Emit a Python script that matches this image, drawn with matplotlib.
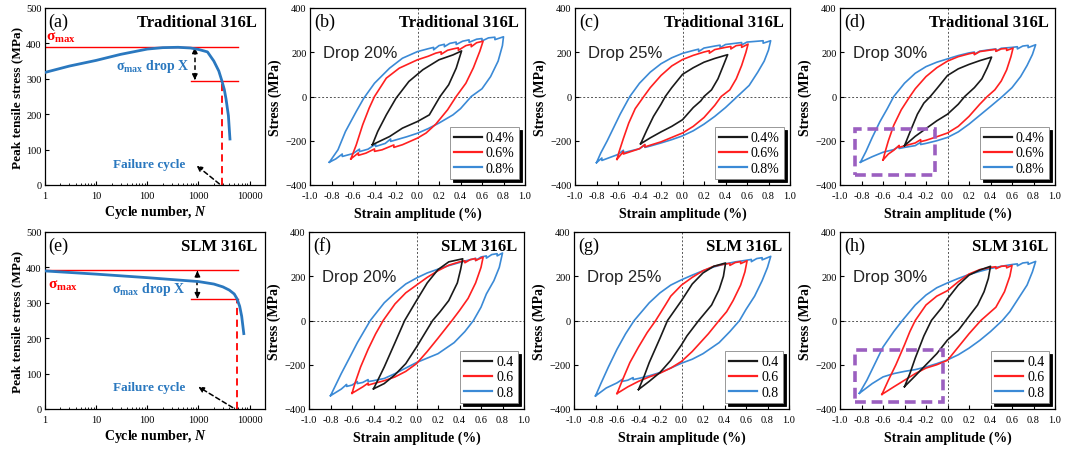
import matplotlib
matplotlib.use("Agg")
import matplotlib.pyplot as plt
from matplotlib.patches import Rectangle
from matplotlib.ticker import LogLocator, NullFormatter, FixedLocator

plt.rcParams['font.family'] = ['Liberation Serif', 'DejaVu Serif']
plt.rcParams['mathtext.fontset'] = 'custom'
plt.rcParams['mathtext.rm'] = 'Liberation Serif'
plt.rcParams['mathtext.it'] = 'Liberation Serif:italic'
plt.rcParams['mathtext.bf'] = 'Liberation Serif:bold'
plt.rcParams['mathtext.bfit'] = 'Liberation Serif:italic:bold'

# ---------------- data: peak tensile stress vs cycle ----------------
trad_N = [1, 3, 10, 30, 100, 200, 400, 700, 1000, 1500, 2000, 2500, 2860, 3200, 3460, 3850, 4130]
trad_peak = [318, 336, 352, 369, 384, 388, 389, 387, 383, 376, 350, 322, 295, 270, 243, 196, 130]
trad_smax = 390
trad_drop = 295
trad_fail_N = 2860

slm_N = [1, 10, 100, 1000, 2000, 3000, 4000, 5000, 5700, 6400, 7000, 7700]
slm_peak = [390, 381, 371, 360, 353, 345, 336, 325, 311, 290, 262, 213]
slm_smax = 392
slm_drop = 310
slm_fail_N = 5700

# ---------------- data: hysteresis loops (strain %, stress MPa) ----------------
# (b) Traditional, drop 20%
b_08_x = [-0.82, -0.74, -0.67, -0.57, -0.5, -0.4, -0.26, -0.14, 0.0, 0.1, 0.15, 0.15, 0.2, 0.25, 0.25, 0.3, 0.36, 0.36, 0.42, 0.48, 0.48, 0.55, 0.6, 0.6, 0.66, 0.72, 0.72, 0.8,
          0.8, 0.79, 0.75, 0.68, 0.6, 0.5, 0.4, 0.33, 0.2, 0.1, 0.0, -0.1, -0.2, -0.25, -0.25, -0.3, -0.39, -0.39, -0.46, -0.54, -0.54, -0.6, -0.7, -0.7, -0.76, -0.82]
b_08_y = [-297, -241, -158, -68, -8, 60, 128, 173, 203, 216, 222, 211, 230, 236, 225, 240, 246, 235, 250, 256, 245, 259, 262, 251, 265, 268, 257, 270,
          270, 230, 160, 90, 35, 0, -55, -83, -120, -145, -166, -182, -196, -203, -192, -212, -226, -215, -238, -249, -238, -258, -271, -260, -282, -297]
b_06_x = [-0.62, -0.57, -0.51, -0.45, -0.4, -0.29, -0.17, 0.0, 0.1, 0.17, 0.22, 0.22, 0.28, 0.33, 0.38, 0.38, 0.45, 0.5, 0.5, 0.55, 0.61,
          0.61, 0.58, 0.52, 0.45, 0.36, 0.28, 0.17, 0.08, 0.0, -0.14, -0.22, -0.22, -0.33, -0.4, -0.4, -0.48, -0.55, -0.55, -0.62]
b_06_y = [-282, -219, -128, -53, 0, 83, 128, 166, 182, 196, 202, 191, 209, 215, 220, 209, 230, 236, 225, 243, 250,
          250, 205, 130, 60, 0, -60, -125, -165, -188, -218, -230, -219, -241, -248, -237, -256, -266, -255, -282]
b_04_x = [-0.42, -0.37, -0.29, -0.2, -0.08, 0.05, 0.2, 0.33, 0.41,
          0.41, 0.36, 0.29, 0.21, 0.11, 0.0, -0.14, -0.26, -0.42]
b_04_y = [-218, -158, -83, -8, 68, 121, 166, 188, 206,
          206, 128, 53, 0, -83, -113, -143, -181, -218]

# (c) Traditional, drop 25%
c_08_x = [-0.8, -0.76, -0.7, -0.64, -0.58, -0.49, -0.4, -0.3, -0.2, -0.1, 0.0, 0.1, 0.15, 0.15, 0.2, 0.3, 0.35, 0.35, 0.4, 0.5, 0.55, 0.55, 0.6, 0.7, 0.75, 0.75, 0.82,
          0.82, 0.8, 0.76, 0.7, 0.62, 0.51, 0.4, 0.3, 0.2, 0.1, 0.0, -0.1, -0.2, -0.3, -0.35, -0.35, -0.4, -0.5, -0.55, -0.55, -0.6, -0.7, -0.75, -0.75, -0.8]
c_08_y = [-299, -255, -200, -140, -80, 0, 60, 110, 148, 175, 195, 208, 214, 203, 219, 228, 232, 221, 235, 241, 244, 233, 246, 250, 252, 241, 252,
          252, 210, 160, 110, 50, 0, -50, -90, -125, -155, -178, -195, -210, -224, -230, -219, -236, -248, -254, -243, -262, -280, -289, -278, -299]
c_06_x = [-0.61, -0.59, -0.55, -0.5, -0.44, -0.36, -0.3, -0.2, -0.1, 0.0, 0.1, 0.2, 0.25, 0.25, 0.3, 0.4, 0.45, 0.45, 0.5, 0.55, 0.55, 0.61,
          0.61, 0.59, 0.55, 0.5, 0.44, 0.36, 0.3, 0.2, 0.1, 0.0, -0.1, -0.2, -0.3, -0.35, -0.35, -0.4, -0.5, -0.55, -0.55, -0.61]
c_06_y = [-284, -250, -190, -120, -55, 0, 40, 95, 138, 167, 186, 201, 207, 196, 212, 222, 226, 215, 230, 233, 222, 237,
          237, 200, 140, 80, 30, 0, -40, -95, -135, -165, -185, -205, -220, -228, -217, -236, -252, -260, -249, -284]
c_04_x = [-0.39, -0.33, -0.27, -0.2, -0.16, -0.1, 0.0, 0.1, 0.2, 0.3, 0.42,
          0.42, 0.38, 0.33, 0.27, 0.2, 0.17, 0.1, 0.0, -0.1, -0.2, -0.3, -0.39]
c_04_y = [-214, -150, -90, -35, 0, 40, 100, 130, 155, 172, 189,
          189, 140, 80, 30, 0, -20, -50, -105, -135, -160, -187, -214]

# (d) Traditional, drop 30%
d_08_x = [-0.81, -0.76, -0.7, -0.63, -0.56, -0.5, -0.4, -0.3, -0.2, -0.1, 0.0, 0.1, 0.2, 0.25, 0.25, 0.3, 0.4, 0.45, 0.45, 0.5, 0.6, 0.65, 0.65, 0.7, 0.75, 0.75, 0.82,
          0.82, 0.79, 0.74, 0.68, 0.6, 0.51, 0.4, 0.3, 0.2, 0.1, 0.0, -0.1, -0.2, -0.25, -0.25, -0.3, -0.4, -0.45, -0.45, -0.5, -0.6, -0.7, -0.81]
d_08_y = [-297, -250, -185, -115, -55, 0, 60, 105, 135, 155, 170, 185, 197, 201, 191, 205, 212, 215, 205, 218, 222, 225, 215, 228, 231, 221, 234,
          234, 190, 140, 90, 40, 0, -45, -85, -125, -160, -185, -200, -212, -217, -207, -222, -230, -235, -225, -240, -252, -272, -297]
d_06_x = [-0.6, -0.58, -0.55, -0.5, -0.43, -0.35, -0.3, -0.2, -0.1, 0.0, 0.1, 0.2, 0.25, 0.25, 0.3, 0.4, 0.45, 0.45, 0.5, 0.55, 0.55, 0.61,
          0.61, 0.59, 0.55, 0.5, 0.44, 0.37, 0.3, 0.2, 0.1, 0.0, -0.1, -0.2, -0.25, -0.25, -0.3, -0.4, -0.45, -0.45, -0.5, -0.55, -0.6]
d_06_y = [-287, -250, -200, -130, -60, 0, 35, 90, 130, 160, 180, 193, 198, 189, 203, 210, 213, 204, 215, 217, 208, 219,
          219, 180, 120, 70, 30, 0, -35, -90, -135, -165, -182, -198, -204, -195, -210, -223, -230, -221, -243, -260, -287]
d_04_x = [-0.4, -0.34, -0.28, -0.22, -0.16, -0.1, 0.0, 0.1, 0.2, 0.3, 0.41,
          0.41, 0.37, 0.32, 0.25, 0.16, 0.1, 0.0, -0.1, -0.2, -0.3, -0.4]
d_04_y = [-222, -150, -80, -30, 0, 35, 95, 125, 145, 162, 178,
          178, 130, 80, 40, 0, -35, -80, -110, -145, -180, -222]

# (f) SLM, drop 20%
f_08_x = [-0.8, -0.75, -0.7, -0.63, -0.55, -0.43, -0.3, -0.2, -0.1, 0.0, 0.1, 0.2, 0.3, 0.4, 0.5, 0.55, 0.55, 0.6, 0.65, 0.65, 0.7, 0.75, 0.75, 0.8,
          0.8, 0.77, 0.72, 0.65, 0.6, 0.53, 0.45, 0.35, 0.2, 0.1, 0.0, -0.1, -0.2, -0.3, -0.4, -0.45, -0.45, -0.5, -0.55, -0.55, -0.6, -0.65, -0.65, -0.7, -0.8]
f_08_y = [-340, -290, -240, -175, -100, 0, 80, 125, 165, 192, 215, 232, 248, 262, 275, 281, 271, 287, 292, 282, 298, 302, 292, 305,
          305, 240, 180, 120, 60, 0, -50, -100, -150, -170, -190, -215, -240, -262, -272, -276, -267, -280, -285, -276, -292, -298, -289, -310, -340]
f_06_x = [-0.6, -0.57, -0.52, -0.45, -0.38, -0.31, -0.2, -0.1, 0.0, 0.1, 0.2, 0.3, 0.4, 0.45, 0.45, 0.5, 0.55, 0.55, 0.62,
          0.62, 0.6, 0.55, 0.48, 0.4, 0.33, 0.2, 0.1, 0.0, -0.1, -0.2, -0.3, -0.4, -0.45, -0.45, -0.5, -0.6]
f_06_y = [-329, -280, -210, -130, -60, 0, 75, 125, 160, 195, 225, 250, 265, 270, 261, 275, 280, 271, 287,
          287, 240, 170, 100, 45, 0, -80, -140, -195, -230, -255, -272, -285, -292, -283, -300, -329]
f_04_x = [-0.4, -0.35, -0.3, -0.2, -0.11, 0.0, 0.1, 0.2, 0.3, 0.43,
          0.43, 0.41, 0.38, 0.3, 0.22, 0.15, 0.05, 0.0, -0.1, -0.2, -0.3, -0.4]
f_04_y = [-309, -260, -210, -100, 0, 90, 170, 230, 265, 279,
          279, 230, 170, 90, 40, 0, -80, -120, -195, -245, -285, -309]

# (g) SLM, drop 25%
g_08_x = [-0.8, -0.75, -0.68, -0.6, -0.52, -0.44, -0.3, -0.2, -0.1, 0.0, 0.1, 0.2, 0.3, 0.4, 0.5, 0.6, 0.65, 0.65, 0.7, 0.75, 0.75, 0.83,
          0.83, 0.8, 0.75, 0.68, 0.6, 0.54, 0.45, 0.35, 0.2, 0.1, 0.0, -0.1, -0.2, -0.3, -0.4, -0.45, -0.45, -0.5, -0.55, -0.55, -0.6, -0.7, -0.8]
g_08_y = [-341, -285, -210, -130, -60, 0, 80, 125, 160, 184, 205, 225, 242, 255, 265, 272, 276, 266, 280, 284, 274, 290,
          290, 240, 180, 110, 50, 0, -50, -100, -150, -175, -193, -215, -235, -250, -262, -267, -258, -270, -275, -266, -282, -305, -341]
g_06_x = [-0.6, -0.55, -0.48, -0.4, -0.32, -0.24, -0.15, -0.1, 0.0, 0.1, 0.2, 0.3, 0.4, 0.45, 0.45, 0.5, 0.55, 0.55, 0.61,
          0.61, 0.59, 0.55, 0.48, 0.42, 0.35, 0.25, 0.1, 0.0, -0.1, -0.2, -0.3, -0.4, -0.5, -0.6]
g_06_y = [-330, -270, -190, -120, -55, 0, 70, 110, 160, 195, 225, 245, 255, 258, 249, 262, 266, 257, 270,
          270, 220, 160, 90, 40, 0, -60, -140, -185, -215, -238, -255, -275, -300, -330]
g_04_x = [-0.4, -0.35, -0.3, -0.2, -0.13, 0.0, 0.1, 0.2, 0.3, 0.41,
          0.41, 0.39, 0.35, 0.28, 0.16, 0.05, 0.0, -0.1, -0.2, -0.3, -0.4]
g_04_y = [-312, -255, -190, -80, 0, 90, 165, 215, 245, 260,
          260, 200, 140, 70, 0, -70, -110, -180, -235, -275, -312]

# (h) SLM, drop 30%
h_08_x = [-0.82, -0.75, -0.68, -0.6, -0.5, -0.42, -0.3, -0.2, -0.1, 0.0, 0.1, 0.2, 0.3, 0.4, 0.5, 0.6, 0.65, 0.65, 0.7, 0.75, 0.75, 0.82,
          0.82, 0.79, 0.74, 0.66, 0.58, 0.51, 0.4, 0.3, 0.2, 0.1, 0.0, -0.1, -0.2, -0.3, -0.4, -0.5, -0.6, -0.7, -0.82]
h_08_y = [-329, -270, -200, -120, -50, 0, 70, 115, 148, 170, 190, 208, 222, 235, 245, 253, 256, 247, 260, 263, 254, 267,
          267, 220, 160, 100, 40, 0, -50, -90, -125, -155, -178, -195, -210, -222, -230, -240, -255, -285, -329]
h_06_x = [-0.61, -0.55, -0.48, -0.4, -0.35, -0.3, -0.2, -0.1, 0.0, 0.1, 0.2, 0.3, 0.4, 0.45, 0.45, 0.5, 0.55, 0.55, 0.6,
          0.6, 0.58, 0.53, 0.45, 0.31, 0.2, 0.1, 0.0, -0.1, -0.2, -0.3, -0.4, -0.5, -0.61]
h_06_y = [-334, -270, -200, -110, -50, 0, 70, 110, 135, 175, 210, 230, 240, 243, 234, 245, 247, 238, 249,
          249, 200, 130, 60, 0, -60, -120, -180, -200, -215, -240, -270, -300, -334]
h_04_x = [-0.4, -0.35, -0.3, -0.22, -0.15, -0.05, 0.0, 0.1, 0.2, 0.3, 0.4,
          0.4, 0.38, 0.34, 0.28, 0.17, 0.1, 0.0, -0.1, -0.2, -0.3, -0.4]
h_04_y = [-299, -240, -170, -70, 0, 60, 98, 160, 205, 228, 245,
          245, 190, 130, 70, 0, -45, -88, -150, -200, -250, -299]

trad_labels = ['0.4%', '0.6%', '0.8%']
slm_labels = ['0.4', '0.6', '0.8']
drops = ['Drop 20%', 'Drop 25%', 'Drop 30%']
d_box = [-0.86, -0.115, -355, -146]   # x0, x1, y0, y1
h_box = [-0.86, -0.04, -367, -133]

# ---------------- styling ----------------
C_BLACK = '#1a1a1a'
C_RED = '#ff2020'
C_BLUE = '#3b8ad6'
C_CURVE = '#2a78bf'
C_PURPLE = '#9b5fc0'

W, H = 1067, 452
fig = plt.figure(figsize=(W / 100, H / 100), dpi=100)


def ax_at(left_px, top_px, w_px, h_px):
    return fig.add_axes([left_px / W, 1 - (top_px + h_px) / H, w_px / W, h_px / H])


def style(ax):
    ax.tick_params(direction='in', labelsize=7.5, length=3, width=0.8)
    ax.tick_params(axis='x', pad=4)
    ax.tick_params(axis='y', pad=2.5)
    ax.tick_params(which='minor', direction='in', length=1.8, width=0.6)
    for s in ax.spines.values():
        s.set_linewidth(0.9)


def peak_panel(ax, N, S, smax, sdrop, Nfail, letter, title, smax_lbl_xy, drop_xy, arrow_N, fail_txt_xy, fail_arrow):
    ax.set_xscale('log')
    ax.set_xlim(1, 20000)
    ax.set_ylim(0, 500)
    ax.set_yticks([0, 100, 200, 300, 400, 500])
    ax.xaxis.set_major_locator(FixedLocator([1, 10, 100, 1000, 10000]))
    ax.set_xticklabels(['1', '10', '100', '1000', '10000'])
    ax.xaxis.set_minor_locator(LogLocator(base=10, subs=range(2, 10)))
    ax.xaxis.set_minor_formatter(NullFormatter())
    style(ax)
    ax.plot([1, 6000], [smax, smax], color='red', lw=1.0)
    ax.plot([700, 6000], [sdrop, sdrop], color='red', lw=1.0)
    ax.plot([Nfail, Nfail], [0, sdrop], color='red', lw=1.3, ls=(0, (4, 2.5)))
    ax.plot(N, S, color=C_CURVE, lw=2.0, zorder=5)
    # double arrow
    ax.plot([arrow_N, arrow_N], [smax - 8, sdrop + 8], color='k', lw=1.1, ls=(0, (3, 2)))
    ax.annotate('', xy=(arrow_N, smax - 2), xytext=(arrow_N, smax - 14),
                arrowprops=dict(arrowstyle='-|>', color='k', lw=1.0, mutation_scale=8))
    ax.annotate('', xy=(arrow_N, sdrop + 2), xytext=(arrow_N, sdrop + 14),
                arrowprops=dict(arrowstyle='-|>', color='k', lw=1.0, mutation_scale=8))
    (x0, y0), (x1, y1) = fail_arrow
    ax.annotate('', xy=(x1, y1), xytext=(x0, y0),
                arrowprops=dict(arrowstyle='-|>', color='k', lw=1.1, ls=(0, (3, 2)), mutation_scale=8,
                                shrinkA=0, shrinkB=0))
    ax.text(smax_lbl_xy[0], smax_lbl_xy[1], r'$\mathbf{\sigma}_{\mathbf{max}}$', color='red',
            fontsize=11, ha='left', va='center')
    ax.text(drop_xy[0], drop_xy[1], r'$\mathbf{\sigma}_{\mathbf{max}}$ drop X', color=C_CURVE,
            fontsize=10, fontweight='bold', ha='center', va='center')
    ax.text(fail_txt_xy[0], fail_txt_xy[1], 'Failure cycle', color=C_CURVE,
            fontsize=9.5, fontweight='bold', ha='center', va='center')
    ax.text(0.015, 0.975, letter, transform=ax.transAxes, fontsize=13, ha='left', va='top')
    ax.text(0.965, 0.965, title, transform=ax.transAxes, fontsize=12, fontweight='bold',
            ha='right', va='top')
    ax.set_ylabel('Peak tensile stress (MPa)', fontsize=9.5, fontweight='bold')
    ax.set_xlabel(r'Cycle number, $\mathbfit{N}$', fontsize=10, fontweight='bold')
    ax.yaxis.set_label_coords(-0.10, 0.5)
    ax.xaxis.set_label_coords(0.5, -0.10)


def loop_panel(ax, loops, labels, letter, title, drop, box=None):
    ax.set_xlim(-1.0, 1.0)
    ax.set_ylim(-400, 400)
    ax.set_xticks([-1.0, -0.8, -0.6, -0.4, -0.2, 0.0, 0.2, 0.4, 0.6, 0.8, 1.0])
    ax.set_xticklabels(['-1.0', '-0.8', '-0.6', '-0.4', '-0.2', '0.0', '0.2', '0.4', '0.6', '0.8', '1.0'])
    ax.set_yticks([-400, -200, 0, 200, 400])
    style(ax)
    ax.axhline(0, color='#555555', lw=0.7, ls=(0, (2, 2)), zorder=1)
    ax.axvline(0, color='#555555', lw=0.7, ls=(0, (2, 2)), zorder=1)
    colors = [C_BLACK, C_RED, C_BLUE]
    handles = []
    for (x, y), c, lab, z in zip(loops, colors, labels, [5, 4, 3]):
        h, = ax.plot(x, y, color=c, lw=1.2, zorder=z, label=lab)
        handles.append(h)
    leg = ax.legend(handles=handles, loc='lower right', fontsize=10, frameon=True, fancybox=False,
                    shadow={'color': 'black', 'alpha': 1.0, 'ox': 2.2, 'oy': -2.2},
                    handlelength=2.0, handletextpad=0.3, labelspacing=0.15, borderpad=0.3,
                    borderaxespad=0.45)
    leg.get_frame().set_edgecolor('#888888')
    leg.get_frame().set_linewidth(0.6)
    for lh in leg.get_lines():
        lh.set_linewidth(1.6)
    if box is not None:
        x0, x1, y0, y1 = box
        ax.add_patch(Rectangle((x0, y0), x1 - x0, y1 - y0, fill=False, edgecolor=C_PURPLE,
                               lw=2.6, ls=(0, (3, 1.6)), zorder=6))
    ax.text(0.02, 0.975, letter, transform=ax.transAxes, fontsize=13, ha='left', va='top')
    ax.text(0.97, 0.965, title, transform=ax.transAxes, fontsize=12, fontweight='bold',
            ha='right', va='top')
    ax.text(0.06, 0.75, drop, transform=ax.transAxes, fontsize=12, ha='left', va='center',
            family='Liberation Sans', color='#222222')
    ax.set_ylabel('Stress (MPa)', fontsize=10, fontweight='bold')
    ax.set_xlabel('Strain amplitude (%)', fontsize=10, fontweight='bold')
    ax.yaxis.set_label_coords(-0.13, 0.5)
    ax.xaxis.set_label_coords(0.5, -0.12)


TOP, BOT, HH = 9, 233, 177

ax_a = ax_at(45, TOP, 220, HH)
peak_panel(ax_a, trad_N, trad_peak, trad_smax, trad_drop, trad_fail_N, '(a)', 'Traditional 316L',
           smax_lbl_xy=(1.05, 418), drop_xy=(128, 338), arrow_N=850, fail_txt_xy=(110, 59),
           fail_arrow=((2570, 3), (920, 55)))
ax_e = ax_at(45, BOT, 220, HH)
peak_panel(ax_e, slm_N, slm_peak, slm_smax, slm_drop, slm_fail_N, '(e)', 'SLM 316L',
           smax_lbl_xy=(1.15, 350), drop_xy=(107, 339), arrow_N=955, fail_txt_xy=(110, 63),
           fail_arrow=((4680, 4), (990, 63)))

ax_b = ax_at(310, TOP, 215, HH)
loop_panel(ax_b, [(b_04_x, b_04_y), (b_06_x, b_06_y), (b_08_x, b_08_y)], trad_labels, '(b)',
           'Traditional 316L', drops[0])
ax_c = ax_at(575, TOP, 215, HH)
loop_panel(ax_c, [(c_04_x, c_04_y), (c_06_x, c_06_y), (c_08_x, c_08_y)], trad_labels, '(c)',
           'Traditional 316L', drops[1])
ax_d = ax_at(840, TOP, 215, HH)
loop_panel(ax_d, [(d_04_x, d_04_y), (d_06_x, d_06_y), (d_08_x, d_08_y)], trad_labels, '(d)',
           'Traditional 316L', drops[2], box=d_box)

ax_f = ax_at(309, BOT, 215, HH)
loop_panel(ax_f, [(f_04_x, f_04_y), (f_06_x, f_06_y), (f_08_x, f_08_y)], slm_labels, '(f)',
           'SLM 316L', drops[0])
ax_g = ax_at(574, BOT, 215, HH)
loop_panel(ax_g, [(g_04_x, g_04_y), (g_06_x, g_06_y), (g_08_x, g_08_y)], slm_labels, '(g)',
           'SLM 316L', drops[1])
ax_h = ax_at(840, BOT, 215, HH)
loop_panel(ax_h, [(h_04_x, h_04_y), (h_06_x, h_06_y), (h_08_x, h_08_y)], slm_labels, '(h)',
           'SLM 316L', drops[2], box=h_box)

fig.savefig('out.png', dpi=100)
